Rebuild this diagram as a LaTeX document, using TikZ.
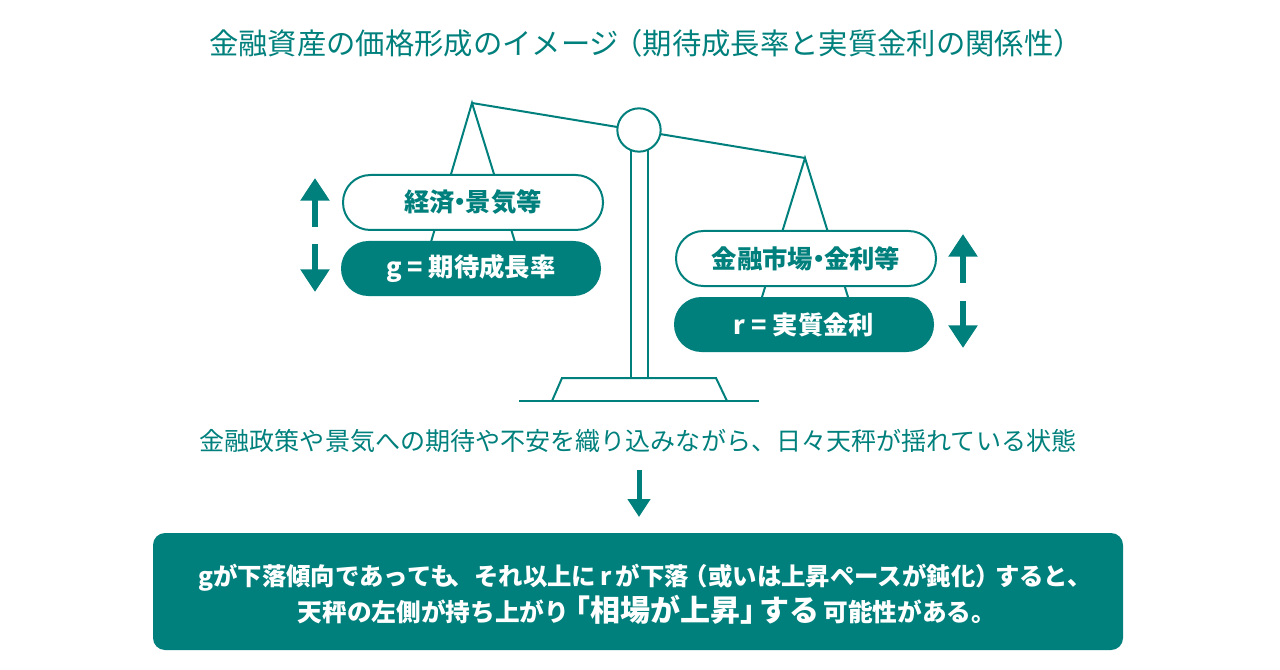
\documentclass[tikz,border=0pt]{standalone}
\usepackage{fontspec}
\newfontfamily\jp{Noto Sans CJK JP}
\usetikzlibrary{arrows.meta}
\definecolor{tl}{RGB}{0,128,124}
\tikzset{
  ln/.style={draw=tl,line width=1.5pt},
  pillw/.style={draw=tl,line width=1.5pt,fill=white,rounded corners=20.5pt,minimum width=195pt,minimum height=41.25pt,inner sep=0pt,text=tl,font=\jp\bfseries\fontsize{19}{20}\selectfont},
  pillt/.style={fill=tl,rounded corners=20.5pt,minimum width=195pt,minimum height=41.25pt,inner sep=0pt,text=white,font=\jp\bfseries\fontsize{19}{20}\selectfont},
  bigarr/.style={draw=tl,line width=4.5pt,-{Triangle[width=21pt,length=17pt,fill=tl]}},
  smallarr/.style={draw=tl,line width=3.75pt,-{Triangle[width=16.5pt,length=13.5pt,fill=tl]}}
}
\newcommand{\nakaguro}{\kern-0.28em・\kern-0.28em}
\begin{document}
\begin{tikzpicture}[x=0.75pt,y=-0.75pt]
\useasboundingbox (0,0) rectangle (1280,670);
% title
\node[text=tl,font=\jp\fontsize{22}{24}\selectfont] (title) at (646,43) {金融資産の価格形成のイメージ\kern-0.2em（期待成長率と実質金利の関係性）};
% beam
\coordinate (la) at (472,103);
\coordinate (ra) at (805,158);
\draw[ln] (la) -- (ra);
% hangers
\coordinate (ll1) at (431,242); \coordinate (ll2) at (515,242);
\coordinate (rl1) at (762,297); \coordinate (rl2) at (848,297);
\draw[ln,line join=miter] (ll1) -- (la) -- (ll2);
\draw[ln,line join=miter] (rl1) -- (ra) -- (rl2);
% pillar
\coordinate (p1t) at (631,150); \coordinate (p1b) at (631,378);
\coordinate (p2t) at (648,150); \coordinate (p2b) at (648,378);
\draw[ln] (p1t) -- (p1b);
\draw[ln] (p2t) -- (p2b);
\node[draw=tl,line width=1.5pt,fill=white,circle,minimum size=32.5pt,inner sep=0pt] (pivot) at (639,130) {};
% base
\coordinate (b1) at (552,401); \coordinate (b2) at (562,378); \coordinate (b3) at (716,378); \coordinate (b4) at (727,401);
\coordinate (g1) at (519,401); \coordinate (g2) at (759,401);
\draw[ln,line join=miter] (b1) -- (b2) -- (b3) -- (b4);
\draw[ln] (g1) -- (g2);
% pills
\node[pillw] (econ) at (473,202.5) {経済\nakaguro 景気等};
\node[pillt] (g) at (471,268.5) {g = 期待成長率};
\node[pillw] (fin) at (806,258.5) {金融市場\nakaguro 金利等};
\node[pillt] (r) at (804,324.5) {r = 実質金利};
% arrows left
\coordinate (lu0) at (315,227); \coordinate (lu1) at (315,178);
\coordinate (ld0) at (315,244); \coordinate (ld1) at (315,292);
\draw[bigarr] (lu0) -- (lu1);
\draw[bigarr] (ld0) -- (ld1);
% arrows right
\coordinate (ru0) at (963,283); \coordinate (ru1) at (963,234);
\coordinate (rd0) at (963,301); \coordinate (rd1) at (963,348);
\draw[bigarr] (ru0) -- (ru1);
\draw[bigarr] (rd0) -- (rd1);
% middle text
\node[text=tl,font=\jp\fontsize{18.8}{20}\selectfont] (mid) at (638,441) {金融政策や景気への期待や不安を織り込みながら、日々天秤が揺れている状態};
\coordinate (ma0) at (639,470); \coordinate (ma1) at (639,517);
\draw[smallarr] (ma0) -- (ma1);
% bottom box
\node[fill=tl,rounded corners=9pt,minimum width=727.5pt,minimum height=87.75pt,inner sep=0pt] (box) at (638,591.5) {};
\node[text=white,font=\jp\bfseries\fontsize{18.3}{20}\selectfont] (line1) at (645,578) {gが下落傾向であっても\kern-0.2em、それ以上に\,r\,が下落\kern-0.2em（或いは上昇ペースが鈍化）\kern-0.2emすると、};
\node[text=white,font=\jp\bfseries\fontsize{18.5}{20}\selectfont,anchor=base] (line2) at (647,621) {天秤の左側が持ち上がり{\fontsize{22.5}{24}\selectfont\kern-0.3em「相場が上昇」\kern-0.35emする}\,可能性がある。};
\end{tikzpicture}
\end{document}
